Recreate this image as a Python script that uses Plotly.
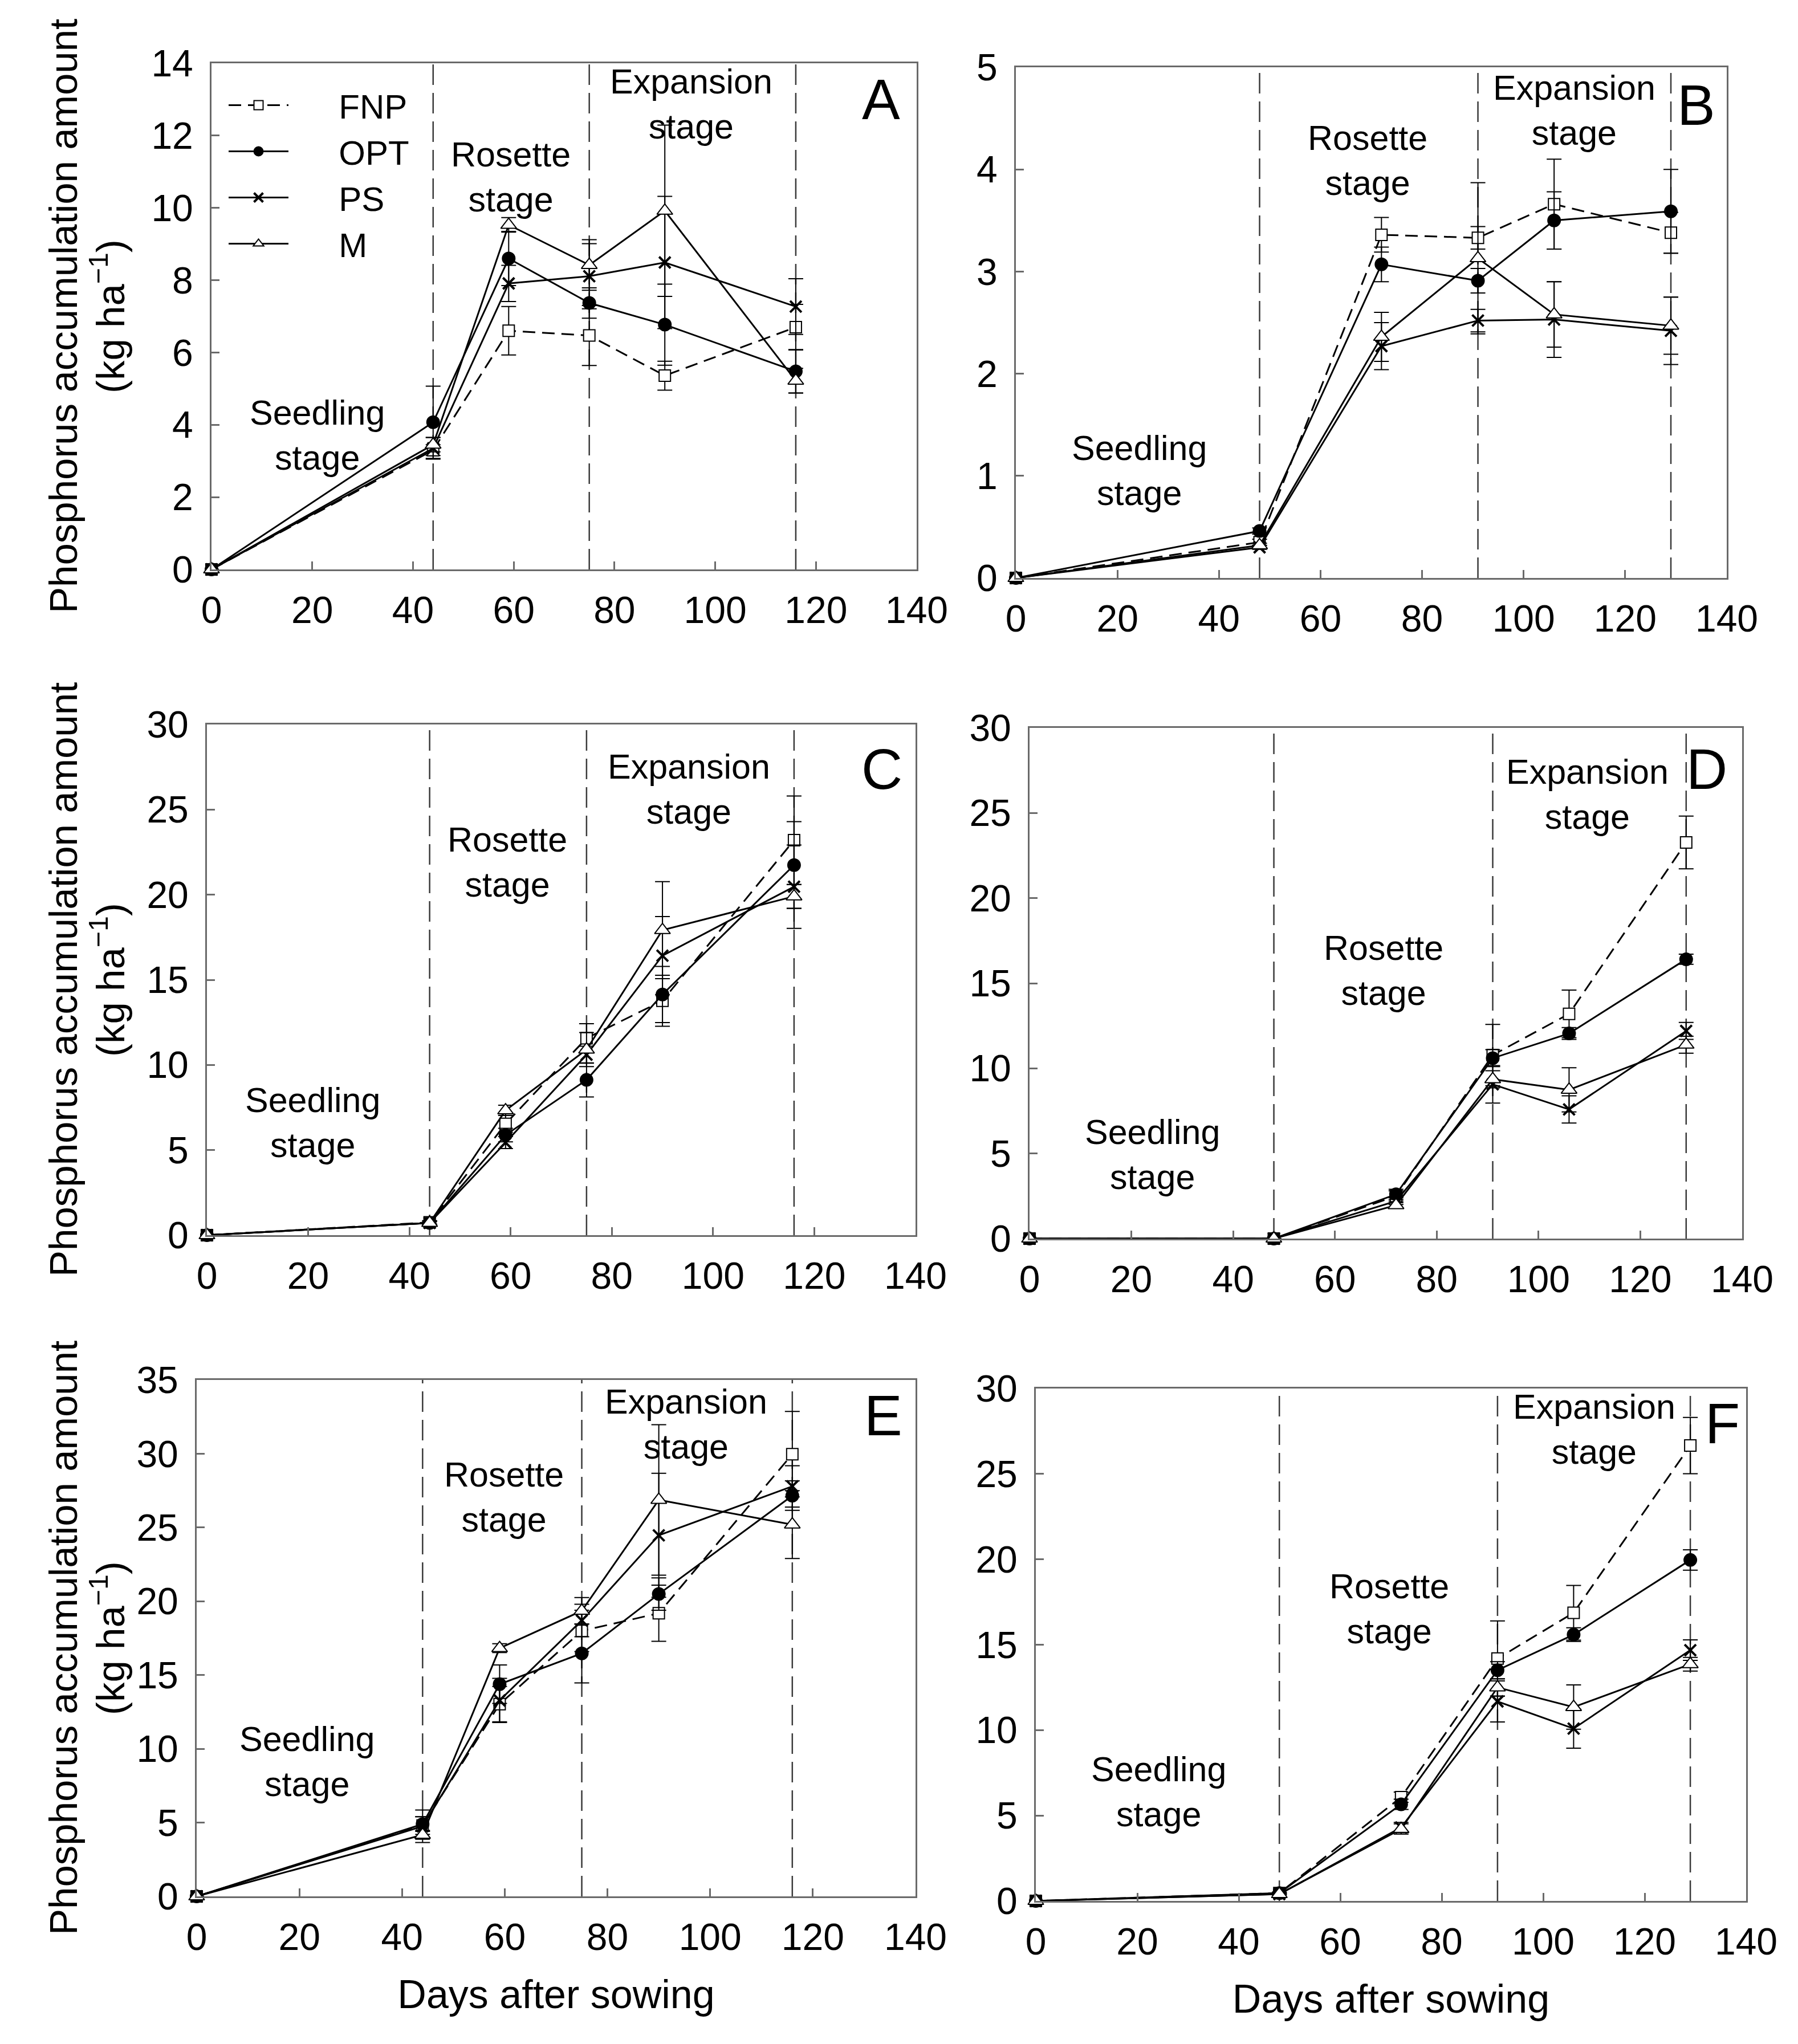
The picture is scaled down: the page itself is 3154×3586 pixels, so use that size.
import plotly.graph_objects as go

# ---------------- data ----------------
days_ace = [0, 44, 59, 75, 90, 116]
days_bdf = [0, 48, 72, 91, 106, 129]
stages_ace = [44, 75, 116]
stages_bdf = [48, 91, 129]
treatments = ["FNP", "OPT", "PS", "M"]
x_ticks = [0, 20, 40, 60, 80, 100, 120, 140]

# Panel A
a_fnp = [0, 3.30, 6.60, 6.47, 5.36, 6.70]
a_fnp_sd = [0, 0.15, 0.67, 0.83, 0.40, 0.63]
a_opt = [0, 4.07, 8.60, 7.37, 6.77, 5.48]
a_opt_sd = [0, 1.00, 0.75, 0.42, 1.12, 0.60]
a_ps = [0, 3.35, 7.91, 8.11, 8.49, 7.27]
a_ps_sd = [0, 0.30, 0.50, 0.90, 1.83, 0.77]
a_m = [0, 3.45, 9.53, 8.42, 9.92, 5.22]
a_m_sd = [0, 0.20, 0.20, 0.70, 2.37, 0.34]

# Panel B
b_fnp = [0, 0.35, 3.36, 3.33, 3.66, 3.38]
b_fnp_sd = [0, 0.03, 0.17, 0.11, 0.44, 0.20]
b_opt = [0, 0.46, 3.07, 2.91, 3.50, 3.59]
b_opt_sd = [0, 0.03, 0.17, 0.12, 0.28, 0.41]
b_ps = [0, 0.30, 2.27, 2.52, 2.53, 2.42]
b_ps_sd = [0, 0.02, 0.23, 0.11, 0.37, 0.33]
b_m = [0, 0.32, 2.36, 3.13, 2.58, 2.47]
b_m_sd = [0, 0.02, 0.24, 0.74, 0.32, 0.28]

# Panel C
c_fnp = [0, 0.75, 6.54, 11.57, 13.77, 23.20]
c_fnp_sd = [0, 0.10, 0.50, 0.85, 1.50, 2.60]
c_opt = [0, 0.72, 5.88, 9.12, 14.14, 21.74]
c_opt_sd = [0, 0.10, 0.40, 1.00, 1.65, 2.55]
c_ps = [0, 0.72, 5.44, 10.60, 16.42, 20.47]
c_ps_sd = [0, 0.10, 0.35, 0.50, 2.30, 2.45]
c_m = [0, 0.72, 7.33, 10.90, 17.92, 19.90]
c_m_sd = [0, 0.10, 0.30, 1.00, 2.85, 0.70]

# Panel D
d_fnp = [0, 0, 2.50, 10.78, 13.20, 23.27]
d_fnp_sd = [0, 0, 0.30, 1.80, 1.40, 1.55]
d_opt = [0, 0, 2.60, 10.60, 12.05, 16.41]
d_opt_sd = [0, 0, 0.30, 0.50, 0.35, 0.30]
d_ps = [0, 0, 2.20, 9.06, 7.59, 12.20]
d_ps_sd = [0, 0, 0.20, 1.10, 0.80, 0.50]
d_m = [0, 0, 1.96, 9.36, 8.74, 11.39]
d_m_sd = [0, 0, 0.15, 0.50, 1.30, 0.50]

# Panel E
e_fnp = [0, 4.80, 13.03, 17.99, 19.19, 29.97]
e_fnp_sd = [0, 0.60, 1.20, 1.40, 1.90, 2.90]
e_opt = [0, 4.90, 14.38, 16.47, 20.49, 27.16]
e_opt_sd = [0, 0.50, 1.30, 2.00, 1.10, 1.00]
e_ps = [0, 4.75, 13.28, 18.70, 24.47, 27.79]
e_ps_sd = [0, 1.10, 1.50, 1.10, 4.20, 1.40]
e_m = [0, 4.17, 16.82, 19.35, 26.87, 25.20]
e_m_sd = [0, 0.30, 0.30, 0.90, 5.10, 2.30]

# Panel F
f_fnp = [0, 0.46, 6.07, 14.19, 16.87, 26.66]
f_fnp_sd = [0, 0.05, 0.30, 2.20, 1.60, 1.65]
f_opt = [0, 0.46, 5.66, 13.51, 15.59, 19.96]
f_opt_sd = [0, 0.05, 0.30, 0.50, 0.40, 0.60]
f_ps = [0, 0.40, 4.30, 11.68, 10.09, 14.68]
f_ps_sd = [0, 0.05, 0.30, 1.20, 1.15, 0.60]
f_m = [0, 0.40, 4.21, 12.50, 11.35, 13.86]
f_m_sd = [0, 0.05, 0.30, 0.50, 1.30, 0.40]

# ---------------- layout / style ----------------
W, H = 3154, 3586
OFF = 7  # page offset compensation (px)
FRAME = "#6a6a6a"
STAGE_LINE = "#3a3a3a"
TEXT_FAMILY = "Liberation Sans, Arial"
TICK_FONT = dict(family=TEXT_FAMILY, size=66, color="black")

panels = [
    dict(letter="A", days=days_ace, stages=stages_ace, yr=[0, 14], dt=2,
         series=[(a_fnp, a_fnp_sd), (a_opt, a_opt_sd), (a_ps, a_ps_sd), (a_m, a_m_sd)],
         px=(370, 1607), py=(110, 998),
         ann=[(21.0, 3.72), (59.4, 10.85), (95.2, 12.88), (132.9, 13.0)]),
    dict(letter="B", days=days_bdf, stages=stages_bdf, yr=[0, 5], dt=1,
         series=[(b_fnp, b_fnp_sd), (b_opt, b_opt_sd), (b_ps, b_ps_sd), (b_m, b_m_sd)],
         px=(1781, 3028), py=(117, 1013),
         ann=[(24.3, 1.05), (69.3, 4.09), (110.0, 4.58), (134.0, 4.63)]),
    dict(letter="C", days=days_ace, stages=stages_ace, yr=[0, 30], dt=5,
         series=[(c_fnp, c_fnp_sd), (c_opt, c_opt_sd), (c_ps, c_ps_sd), (c_m, c_m_sd)],
         px=(362, 1605), py=(1270, 2166),
         ann=[(20.9, 6.6), (59.4, 21.9), (95.2, 26.2), (133.3, 27.4)]),
    dict(letter="D", days=days_bdf, stages=stages_bdf, yr=[0, 30], dt=5,
         series=[(d_fnp, d_fnp_sd), (d_opt, d_opt_sd), (d_ps, d_ps_sd), (d_m, d_m_sd)],
         px=(1805, 3055), py=(1276, 2172),
         ann=[(24.1, 4.95), (69.5, 15.75), (109.6, 26.1), (133.1, 27.6)]),
    dict(letter="E", days=days_ace, stages=stages_ace, yr=[0, 35], dt=5,
         series=[(e_fnp, e_fnp_sd), (e_opt, e_opt_sd), (e_ps, e_ps_sd), (e_m, e_m_sd)],
         px=(344, 1605), py=(2420, 3326),
         ann=[(21.5, 9.14), (59.8, 27.06), (95.3, 32.0), (133.7, 32.6)]),
    dict(letter="F", days=days_bdf, stages=stages_bdf, yr=[0, 30], dt=5,
         series=[(f_fnp, f_fnp_sd), (f_opt, f_opt_sd), (f_ps, f_ps_sd), (f_m, f_m_sd)],
         px=(1816, 3062), py=(2435, 3334),
         ann=[(24.2, 6.4), (69.7, 17.1), (110.0, 27.6), (135.3, 27.95)]),
]

trace_style = {
    "FNP": dict(dash="22px,12px", symbol="square", size=20, fill="white", lw=2),
    "OPT": dict(dash="solid", symbol="circle", size=22, fill="black", lw=2),
    "PS": dict(dash="solid", symbol="x-thin", size=20, fill="black", lw=4),
    "M": dict(dash="solid", symbol="triangle-up", size=24, fill="white", lw=2),
}
LEGEND_PAD = "\u00a0" * 5


def fx(px_):
    return (px_ - OFF) / W


def fy(py_):
    return 1 - (py_ - OFF) / H


fig = go.Figure()
layout = dict(width=W, height=H, margin=dict(l=0, r=0, t=0, b=0, pad=0, autoexpand=False),
              paper_bgcolor="white", plot_bgcolor="white", showlegend=True)
shapes, annotations = [], []

for i, p in enumerate(panels):
    n = "" if i == 0 else str(i + 1)
    xa, ya = "x" + n, "y" + n
    xd = [fx(p["px"][0]), fx(p["px"][1])]
    yd = [fy(p["py"][1]), fy(p["py"][0])]
    layout["xaxis" + n] = dict(
        domain=xd, anchor=ya, range=[0, 140], tickvals=x_ticks, automargin=False,
        ticks="inside", ticklen=14, tickwidth=3, tickcolor=FRAME,
        showline=True, linecolor=FRAME, linewidth=3, mirror=True,
        showgrid=False, zeroline=False, tickfont=TICK_FONT, ticklabelstandoff=12,
    )
    layout["yaxis" + n] = dict(
        domain=yd, anchor=xa, range=p["yr"], dtick=p["dt"], tick0=0, automargin=False,
        ticks="inside", ticklen=14, tickwidth=3, tickcolor=FRAME,
        showline=True, linecolor=FRAME, linewidth=3, mirror=True,
        showgrid=False, zeroline=False, tickfont=TICK_FONT, ticklabelstandoff=16,
    )
    if p["letter"] in ("E", "F"):
        layout["xaxis" + n]["title"] = dict(text="Days after sowing",
                                            font=dict(family=TEXT_FAMILY, size=70, color="black"),
                                            standoff=40)
    for b in p["stages"]:
        shapes.append(dict(type="line", xref=xa, yref=ya + " domain", x0=b, x1=b, y0=0, y1=1,
                           line=dict(color=STAGE_LINE, width=2.5, dash="36px,14px"), layer="below"))
    labels = ["Seedling<br>stage", "Rosette<br>stage", "Expansion<br>stage"]
    for (ax_, ay_), txt in zip(p["ann"][:3], labels):
        annotations.append(dict(x=ax_, y=ay_, xref=xa, yref=ya, text=txt, showarrow=False,
                                xanchor="center", yanchor="middle",
                                font=dict(family=TEXT_FAMILY, size=61, color="black")))
    lx, ly = p["ann"][3]
    annotations.append(dict(x=lx, y=ly, xref=xa, yref=ya, text=p["letter"], showarrow=False,
                            xanchor="center", yanchor="middle",
                            font=dict(family=TEXT_FAMILY, size=100, color="black")))
    if p["letter"] in ("A", "C", "E"):
        yc = fy((p["py"][0] + p["py"][1]) / 2)
        for txt, xpos in (("Phosphorus accumulation amount", 110),
                          ("(kg ha<sup>\u22121</sup>)", 188)):
            annotations.append(dict(x=fx(xpos), y=yc, xref="paper", yref="paper", text=txt,
                                    textangle=-90, showarrow=False,
                                    xanchor="center", yanchor="middle",
                                    font=dict(family=TEXT_FAMILY, size=69, color="black")))

    for name, (vals, sd) in zip(treatments, p["series"]):
        st = trace_style[name]
        fig.add_trace(go.Scatter(
            x=p["days"], y=vals, name=LEGEND_PAD + name, xaxis=xa, yaxis=ya,
            mode="lines+markers", showlegend=(i == 0),
            cliponaxis=False,
            line=dict(color="black", width=3, dash=st["dash"]),
            marker=dict(symbol=st["symbol"], size=st["size"], color=st["fill"],
                        line=dict(color="black", width=st["lw"])),
            error_y=dict(type="data", array=sd, visible=True, color="black",
                         thickness=2, width=13),
        ))

layout["shapes"] = shapes
layout["annotations"] = annotations
layout["legend"] = dict(x=fx(395), y=fy(138), xanchor="left", yanchor="top",
                        bgcolor="rgba(0,0,0,0)", itemwidth=105,
                        font=dict(family=TEXT_FAMILY, size=60, color="black"),
                        tracegroupgap=0)
fig.update_layout(**layout)
fig.write_html("out.html")
